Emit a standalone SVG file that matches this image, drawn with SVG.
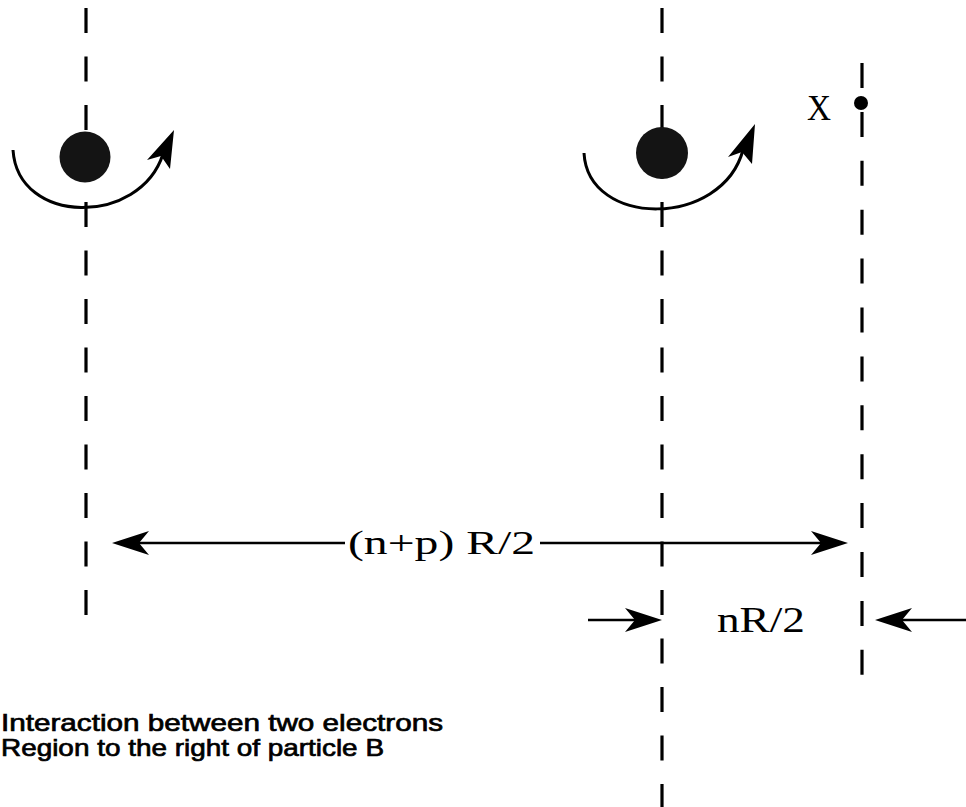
<svg xmlns="http://www.w3.org/2000/svg" width="966" height="807" viewBox="0 0 966 807">
<style>
.dash{stroke:#000;stroke-width:3.2;fill:none;stroke-dasharray:25 23.5}
.line{stroke:#000;stroke-width:2.6;fill:none}
.arc{stroke:#000;stroke-width:3;fill:none}
.head{fill:#000}
.serif{font-family:"Liberation Serif","Times New Roman",serif;fill:#000}
.sans{font-family:"Liberation Sans",Arial,sans-serif;fill:#000;stroke:#000;stroke-width:0.7}
.ball{fill:#141414}
</style>
<defs>
<path id="ah" d="M0,0 L-37,-12 L-27,0 L-37,12 Z"/>
</defs>
<g id="axisA"><line class="dash" x1="86" y1="8" x2="86" y2="616"/></g>
<g id="axisB"><line class="dash" x1="662" y1="8" x2="662" y2="807"/></g>
<g id="axisX"><line class="dash" x1="862" y1="63" x2="862" y2="676" style="stroke-dasharray:25 23.9"/></g>
<g id="particleA">
<circle class="ball" cx="85" cy="157" r="25.5"/>
<path class="arc" d="M13,150 C18,226 140,226 163,154"/>
<path class="head" d="M174,130 L147,160 L161,156 L170,169 Z"/>
</g>
<g id="particleB">
<circle class="ball" cx="662" cy="153" r="26"/>
<path class="arc" d="M584,153 C588,228 722,228 743,150"/>
<path class="head" d="M755,124 L728,157 L742,152 L752,164 Z"/>
</g>
<g id="pointX">
<circle cx="861" cy="103" r="7" fill="#000"/>
<text class="serif" x="807" y="120" font-size="36" textLength="24" lengthAdjust="spacingAndGlyphs">X</text>
</g>
<g id="connectors">
<line class="line" x1="120" y1="543" x2="345" y2="543"/>
<use href="#ah" transform="translate(112,543) rotate(180)"/>
<line class="line" x1="540" y1="543" x2="840" y2="543"/>
<use href="#ah" transform="translate(848,543)"/>
<line class="line" x1="588" y1="620" x2="654" y2="620"/>
<use href="#ah" transform="translate(662,620)"/>
<line class="line" x1="884" y1="620" x2="966" y2="620"/>
<use href="#ah" transform="translate(875,620) rotate(180)"/>
</g>
<g id="labels">
<text class="serif" x="348" y="554" font-size="34" textLength="187" lengthAdjust="spacingAndGlyphs">(n+p) R/2</text>
<text class="serif" x="717" y="632" font-size="36" textLength="88" lengthAdjust="spacingAndGlyphs">nR/2</text>
<text class="sans" x="1" y="731" font-size="24" textLength="442" lengthAdjust="spacingAndGlyphs">Interaction between two electrons</text>
<text class="sans" x="1" y="756" font-size="24" textLength="383" lengthAdjust="spacingAndGlyphs">Region to the right of particle B</text>
</g>
</svg>
